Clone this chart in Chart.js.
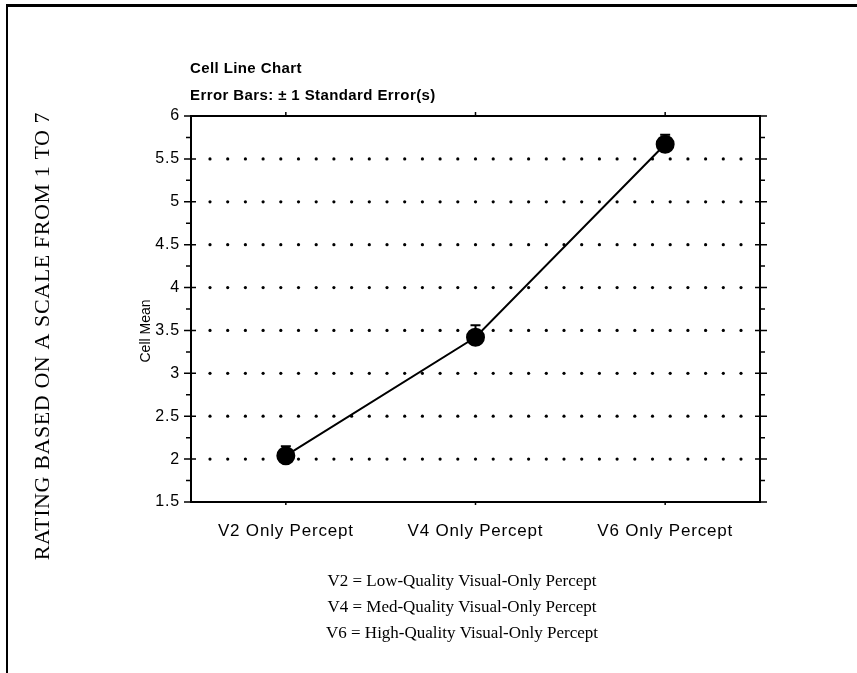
<!DOCTYPE html>
<html>
<head>
<meta charset="utf-8">
<script src="https://cdn.jsdelivr.net/npm/chart.js@4/dist/chart.umd.min.js"></script>
<style>
  html, body { margin: 0; padding: 0; background: #fff; }
  #wrap { position: relative; width: 857px; height: 673px; }
  canvas { position: absolute; left: 0; top: 0; }
</style>
</head>
<body>
<div id="wrap"><canvas id="c" width="857" height="673"></canvas></div>
<script>
// Cell means with ±1 standard error, one per visual-only condition
const categories = ['V2 Only Percept', 'V4 Only Percept', 'V6 Only Percept'];
const cellMeans = [2.04, 3.42, 5.67];
const standardErrors = [0.11, 0.14, 0.11];

// Value axis ticks and their labels
const yTicks = [1.5, 2, 2.5, 3, 3.5, 4, 4.5, 5, 5.5, 6];
const yTickLabels = ['1.5', '2', '2.5', '3', '3.5', '4', '4.5', '5', '5.5', '6'];

// Text around the plot
const titleLines = ['Cell Line Chart', 'Error Bars: \u00b1 1 Standard Error(s)'];
const yAxisTitle = 'Cell Mean';
const outerAxisTitle = 'RATING BASED ON A SCALE FROM 1 TO 7';
const legendNotes = [
  'V2 = Low-Quality Visual-Only Percept',
  'V4 = Med-Quality Visual-Only Percept',
  'V6 = High-Quality Visual-Only Percept'
];

const SANS = '"Liberation Sans", Arial, Helvetica, sans-serif';
const SERIF = '"Liberation Serif", "Times New Roman", Times, serif';

function setSpacing(ctx, px) {
  if ('letterSpacing' in ctx) ctx.letterSpacing = px + 'px';
}

// Page frame, dotted grid, axes with ticks, error bars and surrounding text
const decorations = {
  id: 'decorations',
  beforeDraw(chart) {
    const ctx = chart.ctx;
    ctx.save();
    ctx.fillStyle = '#fff';
    ctx.fillRect(0, 0, chart.width, chart.height);
    // page frame: top and left rule
    ctx.fillStyle = '#000';
    ctx.fillRect(6, 4, chart.width - 6, 3);
    ctx.fillRect(6, 4, 2, chart.height - 4);
    ctx.restore();
    // slightly tracked lettering for the axis tick labels
    setSpacing(ctx, 0.8);
  },
  beforeDatasetsDraw(chart) {
    const ctx = chart.ctx;
    const { left, right, top, bottom } = chart.chartArea;
    const y = chart.scales.y;
    const x = chart.scales.x;
    ctx.save();

    // dotted horizontal grid at interior ticks
    ctx.fillStyle = '#000';
    const nDots = 30;
    const step = (right - left - 38) / nDots;
    yTicks.forEach(v => {
      if (v === y.min || v === y.max) return;
      const py = y.getPixelForValue(v);
      for (let k = 0; k <= nDots; k++) {
        ctx.beginPath();
        ctx.arc(left + 19 + k * step, py, 1.6, 0, Math.PI * 2);
        ctx.fill();
      }
    });

    // frame of the plot
    ctx.strokeStyle = '#000';
    ctx.lineWidth = 2;
    ctx.beginPath();
    ctx.moveTo(left, top); ctx.lineTo(right, top);
    ctx.lineTo(right, bottom); ctx.lineTo(left, bottom);
    ctx.closePath();
    ctx.stroke();

    // major and minor ticks on the left and right axes
    ctx.lineWidth = 1.5;
    for (let i = 0; i < yTicks.length; i++) {
      const py = y.getPixelForValue(yTicks[i]);
      ctx.beginPath();
      ctx.moveTo(left - 7, py); ctx.lineTo(left + 5, py);
      ctx.moveTo(right - 5, py); ctx.lineTo(right + 7, py);
      ctx.stroke();
      if (i < yTicks.length - 1) {
        const pm = y.getPixelForValue((yTicks[i] + yTicks[i + 1]) / 2);
        ctx.beginPath();
        ctx.moveTo(left - 5, pm); ctx.lineTo(left, pm);
        ctx.moveTo(right, pm); ctx.lineTo(right + 5, pm);
        ctx.stroke();
      }
    }
    // small category ticks on the top and bottom axes
    categories.forEach((c, i) => {
      const px = x.getPixelForValue(i);
      ctx.beginPath();
      ctx.moveTo(px, bottom); ctx.lineTo(px, bottom + 3);
      ctx.moveTo(px, top); ctx.lineTo(px, top - 4);
      ctx.stroke();
    });

    // error bars (+1 standard error; the lower half sits under the marker)
    ctx.lineWidth = 2;
    cellMeans.forEach((m, i) => {
      const px = x.getPixelForValue(i);
      const hi = y.getPixelForValue(m + standardErrors[i]);
      const mid = y.getPixelForValue(m);
      ctx.beginPath();
      ctx.moveTo(px, hi); ctx.lineTo(px, mid);
      ctx.moveTo(px - 5, hi); ctx.lineTo(px + 5, hi);
      ctx.stroke();
    });
    ctx.restore();
  },
  afterDraw(chart) {
    const ctx = chart.ctx;
    const { left, top } = chart.chartArea;
    ctx.save();
    ctx.fillStyle = '#000';
    ctx.textBaseline = 'middle';

    // chart title block
    ctx.textAlign = 'left';
    ctx.font = 'bold 15px ' + SANS;
    setSpacing(ctx, 0.4);
    ctx.fillText(titleLines[0], left - 1, top - 47);
    ctx.fillText(titleLines[1], left - 1, top - 20);

    // inner axis title
    setSpacing(ctx, 0);
    ctx.save();
    ctx.translate(146, 331);
    ctx.rotate(-Math.PI / 2);
    ctx.textAlign = 'center';
    ctx.font = '14px ' + SANS;
    ctx.fillText(yAxisTitle, 0, 0);
    ctx.restore();

    // outer axis title
    ctx.save();
    ctx.translate(43, 336);
    ctx.rotate(-Math.PI / 2);
    ctx.textAlign = 'center';
    ctx.font = '22px ' + SERIF;
    setSpacing(ctx, 0.6);
    ctx.fillText(outerAxisTitle, 0, 0);
    setSpacing(ctx, 0);
    ctx.restore();

    // condition key below the chart
    ctx.textAlign = 'center';
    ctx.font = '17px ' + SERIF;
    legendNotes.forEach((t, i) => ctx.fillText(t, 462, 582 + i * 26));
    ctx.restore();
  }
};

new Chart(document.getElementById('c'), {
  type: 'line',
  data: {
    labels: categories,
    datasets: [{
      data: cellMeans,
      borderColor: '#000',
      borderWidth: 2,
      backgroundColor: '#000',
      pointBackgroundColor: '#000',
      pointBorderColor: '#000',
      pointRadius: 8.5,
      pointHoverRadius: 8.5,
      tension: 0,
      fill: false
    }]
  },
  options: {
    responsive: false,
    animation: false,
    events: [],
    layout: { padding: { top: 116, right: 97, left: 0, bottom: 0 } },
    plugins: { legend: { display: false }, tooltip: { enabled: false }, title: { display: false } },
    scales: {
      x: {
        type: 'category',
        offset: true,
        grid: { display: false, drawTicks: false },
        border: { display: false },
        ticks: {
          color: '#000',
          padding: 19,
          maxRotation: 0,
          font: { family: SANS, size: 17 }
        },
        afterFit(scale) { scale.height = 171; }
      },
      y: {
        type: 'linear',
        min: 1.5,
        max: 6,
        grid: { display: false, drawTicks: false },
        border: { display: false },
        afterBuildTicks(scale) { scale.ticks = yTicks.map(v => ({ value: v })); },
        ticks: {
          color: '#000',
          padding: 11,
          font: { family: SANS, size: 16 },
          callback: (v, i) => yTickLabels[i]
        },
        afterFit(scale) { scale.width = 191; }
      }
    }
  },
  plugins: [decorations]
});
</script>
</body>
</html>
